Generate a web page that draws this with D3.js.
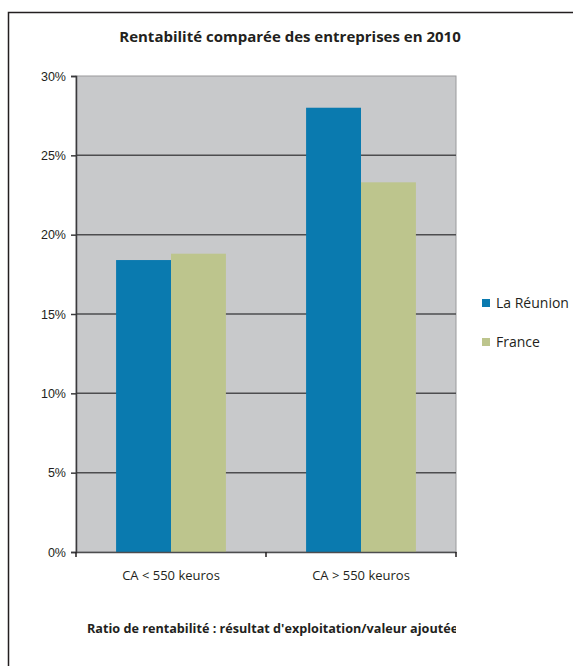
<!DOCTYPE html>
<html>
<head>
<meta charset="utf-8">
<script src="https://cdn.jsdelivr.net/npm/d3@7"></script>
<style>
  body { margin: 0; background: #fff; }
  svg { display: block; }
</style>
</head>
<body>
<svg id="chart" width="573" height="666"></svg>
<script>
// data
const categories = ['CA < 550 keuros', 'CA > 550 keuros'];
const series = ['La Réunion', 'France'];
const reunion = [0.184, 0.280];
const france = [0.188, 0.233];
const yTicks = [0, 0.05, 0.10, 0.15, 0.20, 0.25, 0.30];
const colors = ['#0a7aaf', '#bdc58d'];

const svg = d3.select('#chart');
const plot = { left: 76, right: 456, top: 76, bottom: 552 };
const font = '"Open Sans", sans-serif';

// outer frame, runs off the right and bottom of the picture
svg.append('rect')
  .attr('x', 8.5).attr('y', 12.5)
  .attr('width', 600).attr('height', 700)
  .attr('fill', 'none').attr('stroke', '#231f20').attr('stroke-width', 1.5);

svg.append('text')
  .attr('x', 290).attr('y', 42)
  .attr('text-anchor', 'middle')
  .style('font-family', font).style('font-weight', 'bold').style('font-size', '15px')
  .attr('fill', '#231f20')
  .text('Rentabilité comparée des entreprises en 2010');

// scales
const x0 = d3.scaleBand().domain(categories).range([plot.left, plot.right]);
const x1 = d3.scaleBand().domain(series).range([0, x0.bandwidth()]).paddingOuter(0.73);
const y = d3.scaleLinear().domain([0, 0.30]).range([plot.bottom, plot.top]);

svg.append('rect')
  .attr('x', plot.left).attr('y', plot.top)
  .attr('width', plot.right - plot.left).attr('height', plot.bottom - plot.top)
  .attr('fill', '#c8c9cb').attr('stroke', '#9a9a9c');

// gridlines
svg.selectAll('.grid')
  .data(yTicks.filter(d => d > 0 && d < 0.30))
  .enter().append('line')
  .attr('class', 'grid')
  .attr('x1', plot.left).attr('x2', plot.right)
  .attr('y1', d => y(d)).attr('y2', d => y(d))
  .attr('stroke', '#4d4d4f').attr('stroke-width', 1.5);

// bars
const rows = categories.map((c, i) => ({ cat: c, vals: [reunion[i], france[i]] }));
const groups = svg.selectAll('.grp')
  .data(rows)
  .enter().append('g')
  .attr('transform', d => `translate(${x0(d.cat)},0)`);
groups.selectAll('rect')
  .data(d => d.vals.map((v, j) => ({ s: series[j], v, j })))
  .enter().append('rect')
  .attr('x', d => x1(d.s))
  .attr('width', x1.bandwidth())
  .attr('y', d => y(d.v))
  .attr('height', d => y(0) - y(d.v))
  .attr('fill', d => colors[d.j]);

// y axis
const yAxis = svg.append('g')
  .attr('transform', `translate(${plot.left},0)`)
  .call(d3.axisLeft(y).tickValues(yTicks).tickFormat(d3.format('.0%')).tickSize(5).tickPadding(5));
yAxis.select('.domain').attr('stroke', '#3a3a3c').attr('stroke-width', 1.5);
yAxis.selectAll('.tick line').attr('stroke', '#3a3a3c').attr('stroke-width', 1.5);
yAxis.selectAll('text')
  .style('font-family', '"Liberation Sans", Arial, sans-serif').style('font-size', '12.5px')
  .attr('fill', '#231f20');

// x axis
const xAxis = svg.append('g')
  .attr('transform', `translate(0,${plot.bottom})`)
  .call(d3.axisBottom(x0).tickSize(0).tickPadding(19));
xAxis.select('.domain').attr('stroke', '#4d4d4f').attr('stroke-width', 1.5);
xAxis.selectAll('text')
  .style('font-family', font).style('font-size', '13px')
  .attr('fill', '#231f20');
svg.selectAll('.xtick')
  .data([plot.left, x0(categories[1]), plot.right])
  .enter().append('line')
  .attr('x1', d => d).attr('x2', d => d)
  .attr('y1', plot.bottom).attr('y2', plot.bottom + 5)
  .attr('stroke', '#231f20').attr('stroke-width', 1.5);

// legend
const legend = svg.selectAll('.leg')
  .data(series)
  .enter().append('g')
  .attr('transform', (d, i) => `translate(482,${303 + i * 39})`);
legend.append('rect')
  .attr('x', 0).attr('y', -4).attr('width', 8).attr('height', 8)
  .attr('fill', (d, i) => colors[i]);
legend.append('text')
  .attr('x', 14).attr('y', 5)
  .style('font-family', font).style('font-size', '14px')
  .attr('fill', '#231f20')
  .text(d => d);

// footnote, clipped on the right like the original
svg.append('clipPath').attr('id', 'noteclip')
  .append('rect').attr('x', 0).attr('y', 600).attr('width', plot.right).attr('height', 50);
svg.append('text')
  .attr('x', 87).attr('y', 633)
  .attr('clip-path', 'url(#noteclip)')
  .style('font-family', font).style('font-weight', 'bold').style('font-size', '12.65px')
  .attr('fill', '#231f20')
  .text("Ratio de rentabilité : résultat d'exploitation/valeur ajoutée");
</script>
</body>
</html>
